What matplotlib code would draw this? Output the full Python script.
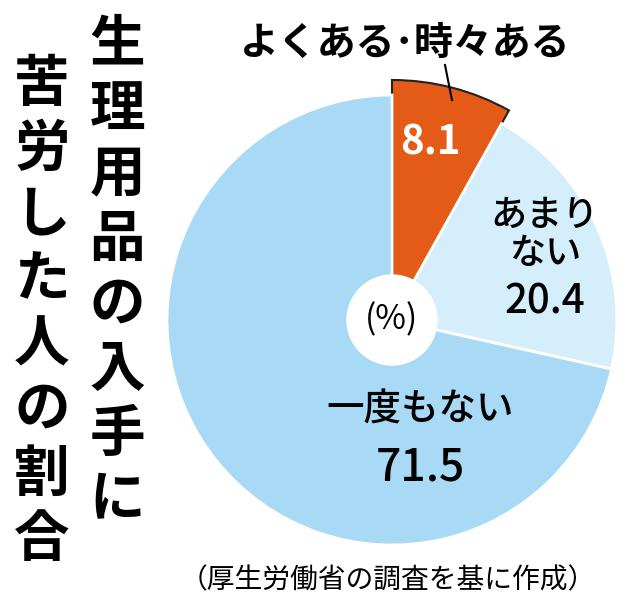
import matplotlib.pyplot as plt
from matplotlib.patches import Circle

plt.rcParams['font.family'] = ['Noto Sans CJK JP', 'DejaVu Sans']

labels = ["よくある・時々ある", "あまりない", "一度もない"]
values = [8.1, 20.4, 71.5]
colors = ["#e35b17", "#d5eefb", "#a8d9f5"]

fig = plt.figure(figsize=(6.4, 6.05), dpi=100)
ax = fig.add_axes([0, 0, 1, 1])

cx, cy, r = 392, 285, 225
wedges, _ = ax.pie(values, colors=colors, startangle=90, counterclock=False,
                   center=(cx, cy), radius=r, frame=True,
                   wedgeprops=dict(edgecolor='white', linewidth=2))
ax.set_xlim(0, 640)
ax.set_ylim(0, 605)
ax.set_aspect('equal')
ax.axis('off')
wedges[0].set_radius(240)
wedges[0].set_edgecolor('#222222')
wedges[0].set_linewidth(1.5)
ax.add_patch(Circle((cx, cy), 45, color='white', zorder=5))
ax.text(cx, cy, "(%)", ha='center', va='center', fontsize=24, zorder=6)

ax.text(405, 562, labels[0].replace("・", "･"), ha='center', va='center',
        fontsize=28, fontweight='bold')
ax.plot([445, 452], [540, 505], color='black', lw=1.5)
ax.text(430, 462, f"{values[0]}", ha='center', va='center', fontsize=29,
        color='white', fontweight='bold')
ax.text(545, 370, "あまり\nない", ha='center', va='center', fontsize=26,
        linespacing=1.1, fontweight='medium')
ax.text(545, 303, f"{values[1]}", ha='center', va='center', fontsize=29,
        fontweight='medium')
ax.text(420, 195, labels[2], ha='center', va='center', fontsize=27,
        fontweight='medium')
ax.text(420, 137, f"{values[2]}", ha='center', va='center', fontsize=32,
        fontweight='medium')

col1 = "生理用品の入手に"
col2 = "苦労した人の割合"
for i, ch in enumerate(col1):
    ax.text(117, 560 - i * 65, ch, ha='center', va='center', fontsize=40,
            fontweight='bold')
for i, ch in enumerate(col2):
    ax.text(42, 520 - i * 65, ch, ha='center', va='center', fontsize=40,
            fontweight='bold')

ax.text(388, 25, "（厚生労働省の調査を基に作成）", ha='center', va='center',
        fontsize=20)

fig.savefig("out.png", dpi=100)
